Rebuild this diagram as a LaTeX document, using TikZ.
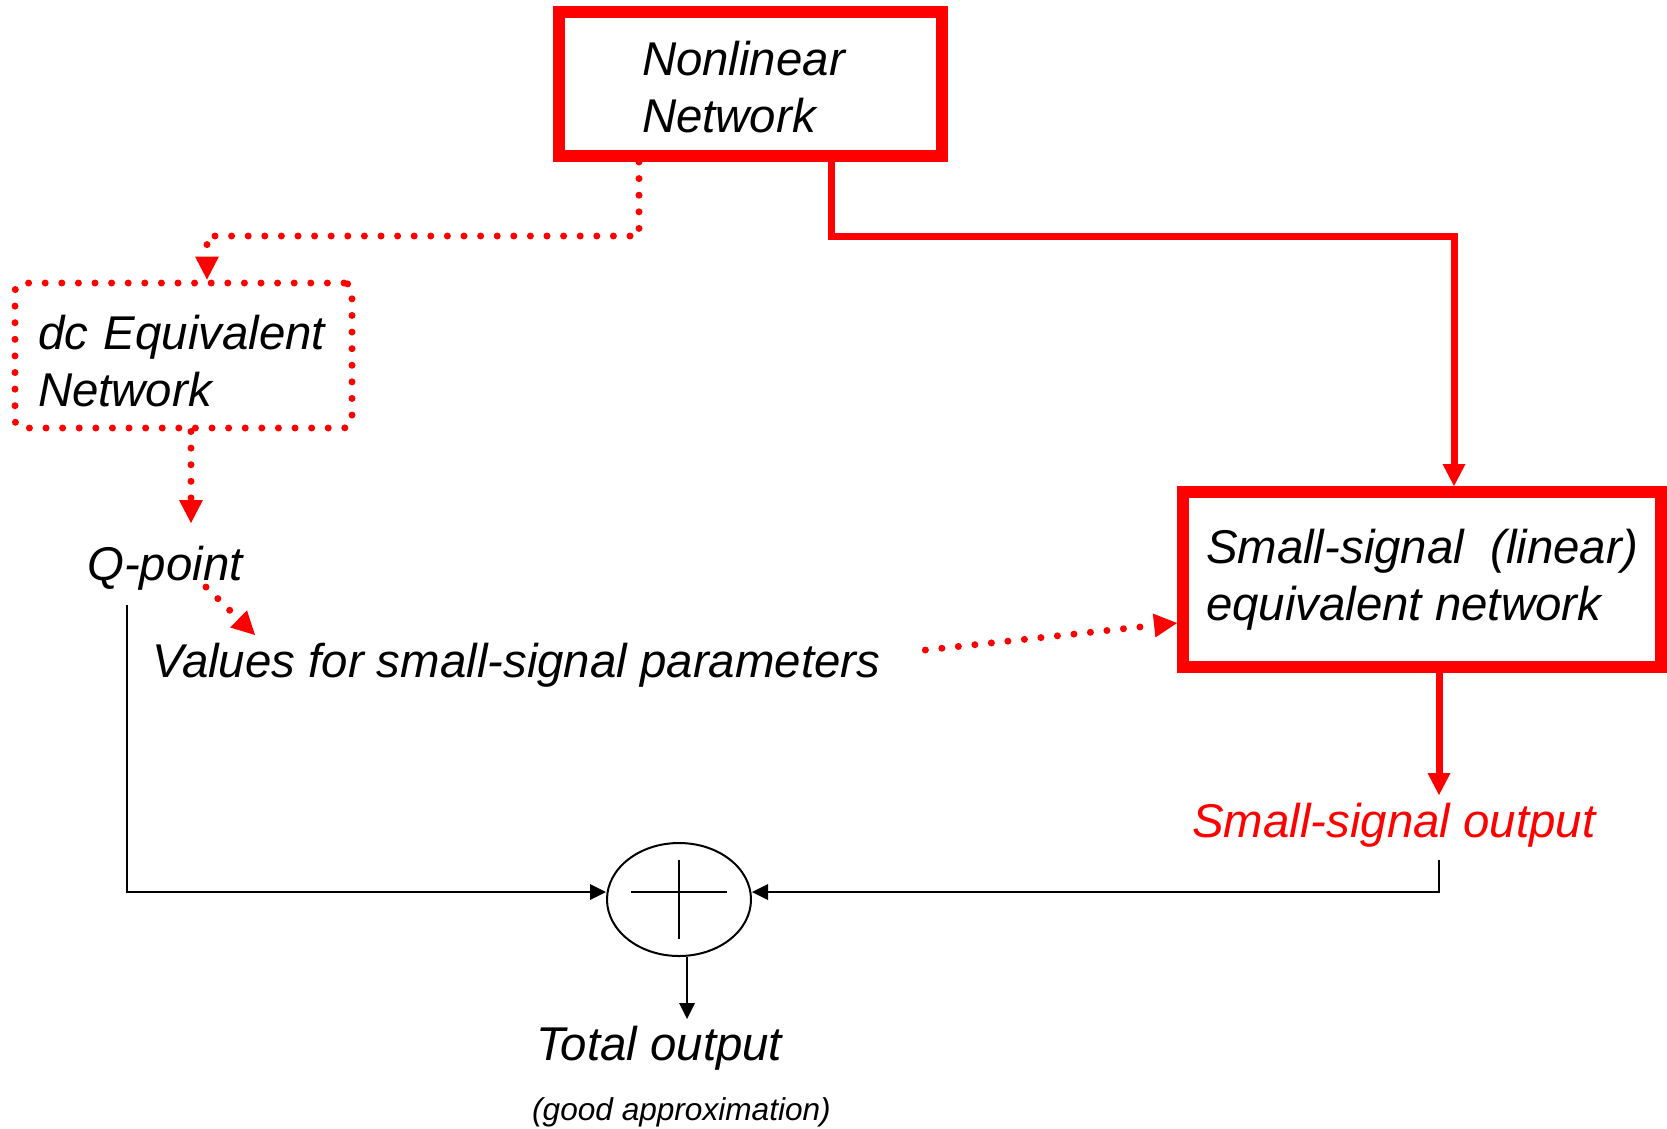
\documentclass[tikz,border=0pt]{standalone}
\usepackage{fontspec}
\setmainfont{Liberation Sans}
\usetikzlibrary{arrows.meta,shapes.geometric,calc}
\definecolor{pptred}{RGB}{255,0,0}
\tikzset{
  bigfont/.style={font=\fontsize{47.4}{57}\selectfont\itshape},
  smallfont/.style={font=\fontsize{31.6}{38}\selectfont\itshape},
  redbox/.style={draw=pptred, line width=12pt, rectangle, inner sep=0pt, bigfont, align=left},
  dotbox/.style={draw=pptred, line width=7pt, line cap=round, dash pattern=on 0pt off 16.6pt, rounded corners=8pt, rectangle, inner sep=0pt, bigfont, align=left},
  dotarrow/.style={draw=pptred, line width=7pt, line cap=round, dash pattern=on 0pt off 16.6pt, -{Triangle[width=24pt,length=23pt,line width=0pt]}},
  redarrow/.style={draw=pptred, line width=7pt, -{Triangle[width=23pt,length=22pt,line width=0pt]}},
  blkarrow/.style={draw=black, line width=2pt, -{Triangle[width=16pt,length=16pt,line width=0pt]}},
  txt/.style={inner sep=0pt, anchor=base west, bigfont},
}
\begin{document}
\begin{tikzpicture}[x=1pt,y=1pt]
\useasboundingbox (0,0) rectangle (1667,-1128);
% boxes
\node[redbox, minimum width=383pt, minimum height=144pt, text width=217pt] (nonlin) at (750.5,-84) {\rule{0pt}{41pt}Nonlinear\\Network};
\node[dotbox, minimum width=337pt, minimum height=145pt, text width=291pt] (dc) at (183.5,-355.5) {\rule{0pt}{46pt}dc Equivalent\\Network};
\node[redbox, minimum width=478pt, minimum height=175pt] (small) at (1422,-579.5) {Small-signal\ \ (linear)\\equivalent network};
% texts
\node[txt] (qpoint) at (87,-580) {Q-point};
\node[txt] (values) at (152,-677) {Values for small-signal parameters};
\node[txt, text=pptred] (ssout) at (1192,-837) {Small-signal output};
\node[draw, ellipse, line width=2pt, minimum width=144pt, minimum height=113pt, inner sep=0pt] (sum) at (679,-899.5) {};
\draw[line width=2pt] ($(sum.center)+(-48,7.5)$) -- ($(sum.center)+(48,7.5)$);
\draw[line width=2pt] ($(sum.center)+(0,39.5)$) -- ($(sum.center)+(0,-39.5)$);
\node[txt] (total) at (536,-1060) {Total output};
\node[txt, smallfont] (approx) at (532,-1120) {(good approximation)};
% connectors
\draw[dotarrow] ($(nonlin.south west)+(86,0)$) -- ++(0,-74) -| ($(dc.north)+(23.5,0)$);
\draw[dotarrow] ($(dc.south)+(7.5,0)$) -- ++(0,-91.5);
\draw[dotarrow] ($(qpoint.base west)+(119,-7)$) -- ($(values.base west)+(103,42)$);
\draw[dotarrow] ($(values.base east)+(45,27)$) -- ($(small.west)+(0,-43.5)$);
\draw[redarrow] ($(nonlin.south west)+(278,0)$) -- ++(0,-74) -| ($(small.north west)+(277,0)$);
\draw[redarrow] ($(small.south west)+(262,0)$) -- ++(0,-122);
\draw[blkarrow] ($(qpoint.base west)+(40,-25)$) |- ($(sum.west)+(0,7.5)$);
\draw[blkarrow] ($(ssout.base west)+(247,-23)$) |- ($(sum.east)+(0,7.5)$);
\draw[blkarrow] ($(sum.south)+(8,0)$) -- ++(0,-62);
\end{tikzpicture}
\end{document}
